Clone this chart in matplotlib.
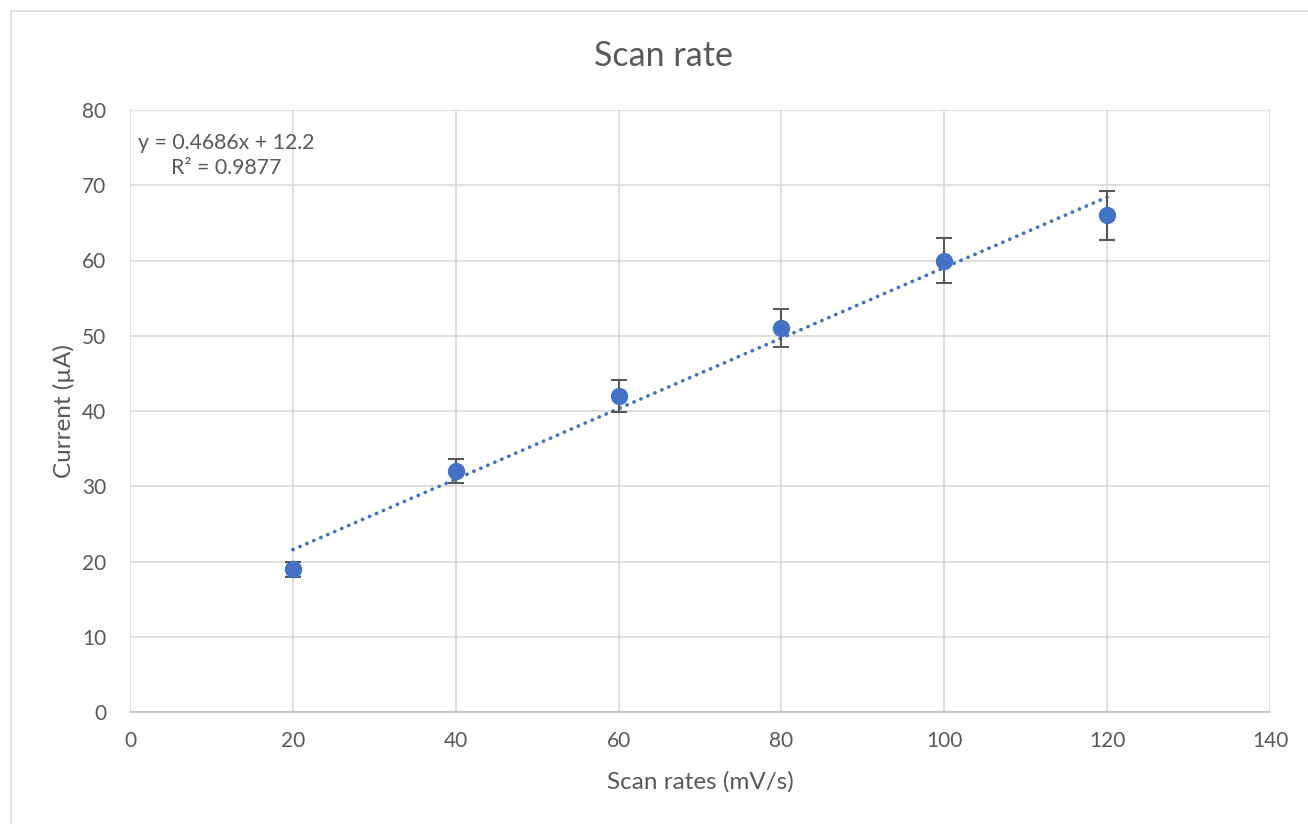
import numpy as np
import matplotlib.pyplot as plt
from matplotlib.patches import Rectangle

scan_rates = [20, 40, 60, 80, 100, 120]
current = [19, 32, 42, 51, 60, 66]
err = [1.0, 1.6, 2.1, 2.55, 3.0, 3.3]

plt.rcParams['font.family'] = ['Lato', 'DejaVu Sans']
gray = '#595959'
blue = '#4472c4'

fig = plt.figure(figsize=(13.08, 8.24), dpi=100)
fig.patches.append(Rectangle((11/1308, -0.01), 1.02, 1 - 11/824 + 0.01,
                             transform=fig.transFigure, fill=False,
                             edgecolor='#d9d9d9', linewidth=1.2))
ax = fig.add_axes([130/1308, 1 - 712/824, 1140/1308, 602/824])

# linear trendline
slope, icpt = np.polyfit(scan_rates, current, 1)
xs = np.array([scan_rates[0], scan_rates[-1]])
ax.plot(xs, slope*xs + icpt, color=blue, lw=2.6, linestyle=(0, (0.1, 2.0)),
        dash_capstyle='round', zorder=3)

ax.errorbar(scan_rates, current, yerr=err, fmt='o', color=blue, ms=11.5,
            ecolor=gray, elinewidth=1.5, capsize=6, capthick=1.5, zorder=4)

ax.set_xlim(0, 140)
ax.set_ylim(0, 80)
ax.set_xticks(np.arange(0, 141, 20))
ax.set_yticks(np.arange(0, 81, 10))
ax.grid(True, color='#d9d9d9', lw=1.2)
ax.set_axisbelow(True)
for s in ['left', 'right', 'top']:
    ax.spines[s].set_visible(False)
ax.spines['bottom'].set_color('#bfbfbf')
ax.spines['bottom'].set_linewidth(1.2)
ax.tick_params(length=0, labelsize=15, labelcolor=gray)
ax.tick_params(axis='y', pad=17)
ax.tick_params(axis='x', pad=14)

fig.text(663/1308, 1 - 56/824, 'Scan rate', fontsize=24.5, color=gray,
         ha='center', va='center')
ax.set_xlabel('Scan rates (mV/s)', fontsize=17.5, color=gray, labelpad=14)
ax.set_ylabel('Current (µA)', fontsize=17.5, color=gray, labelpad=5)

ax.text(1.0, 74, 'y = %.4fx + %.1f\nR² = %.4f' % (slope, icpt, 0.9877),
        fontsize=15.3, color=gray, ha='left', va='center',
        multialignment='center', linespacing=1.3)

fig.savefig('out.png', dpi=100)
